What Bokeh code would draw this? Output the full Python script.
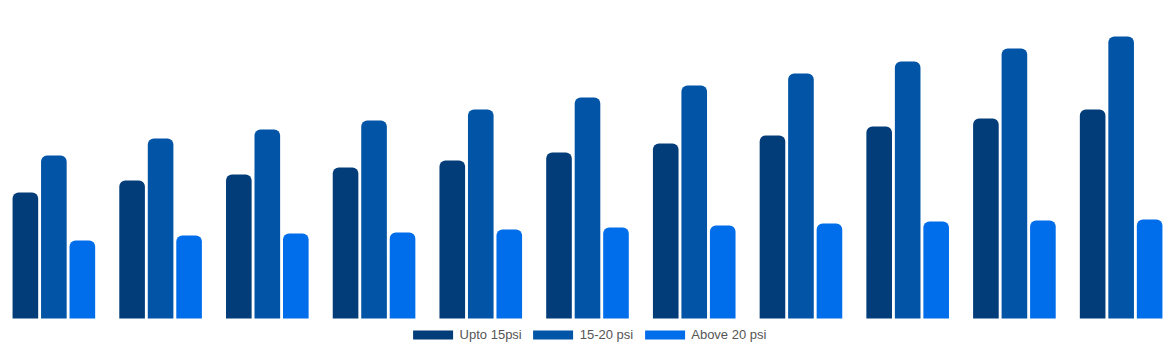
from bokeh.plotting import figure
from bokeh.models import ColumnDataSource, FactorRange, Range1d, Legend, LegendItem
from bokeh.transform import dodge
from bokeh.embed import file_html
from bokeh.resources import INLINE

groups = ["2020", "2021", "2022", "2023", "2024", "2025", "2026", "2027", "2028", "2029", "2030"]
upto_15psi = [12.6, 13.8, 14.4, 15.1, 15.8, 16.6, 17.5, 18.3, 19.2, 20.0, 20.9]
psi_15_20 = [16.3, 18.0, 18.9, 19.8, 20.9, 22.1, 23.3, 24.5, 25.7, 27.0, 28.2]
above_20psi = [7.8, 8.3, 8.5, 8.6, 8.9, 9.1, 9.3, 9.5, 9.7, 9.8, 9.9]
series_names = ["Upto 15psi", "15-20 psi", "Above 20 psi"]
colors = ["#023d7a", "#0154a6", "#006deb"]

source = ColumnDataSource(dict(g=groups, a=upto_15psi, b=psi_15_20, c=above_20psi))

# the y range extends below zero to leave room for the legend under the bars
p = figure(x_range=FactorRange(factors=groups, range_padding=0), y_range=Range1d(-3.2, 31.8),
           width=1174, height=350, output_backend="svg", toolbar_location=None,
           min_border=0)
p.xaxis.visible = False
p.yaxis.visible = False
p.xgrid.visible = False
p.ygrid.visible = False
p.outline_line_color = None
p.background_fill_color = "white"
p.border_fill_color = "white"

offsets = [-0.267, 0.0, 0.267]
renderers = []
for col, off, color in zip(["a", "b", "c"], offsets, colors):
    r = p.vbar(x=dodge("g", off, range=p.x_range), top=col, width=0.24, bottom=0,
               source=source, fill_color=color, line_color=None,
               border_radius=(6, 6, 0, 0))
    renderers.append(r)

legend = Legend(items=[LegendItem(label=n, renderers=[r]) for n, r in zip(series_names, renderers)],
                orientation="horizontal", location="bottom_center",
                glyph_width=50, glyph_height=11, label_height=14,
                label_text_font="Liberation Sans", label_text_font_size="13px",
                label_text_color="#555555", label_standoff=2, spacing=6,
                padding=0, margin=8, border_line_color=None, background_fill_alpha=0)
p.add_layout(legend, "center")

open("out.html", "w").write(file_html(p, INLINE))
